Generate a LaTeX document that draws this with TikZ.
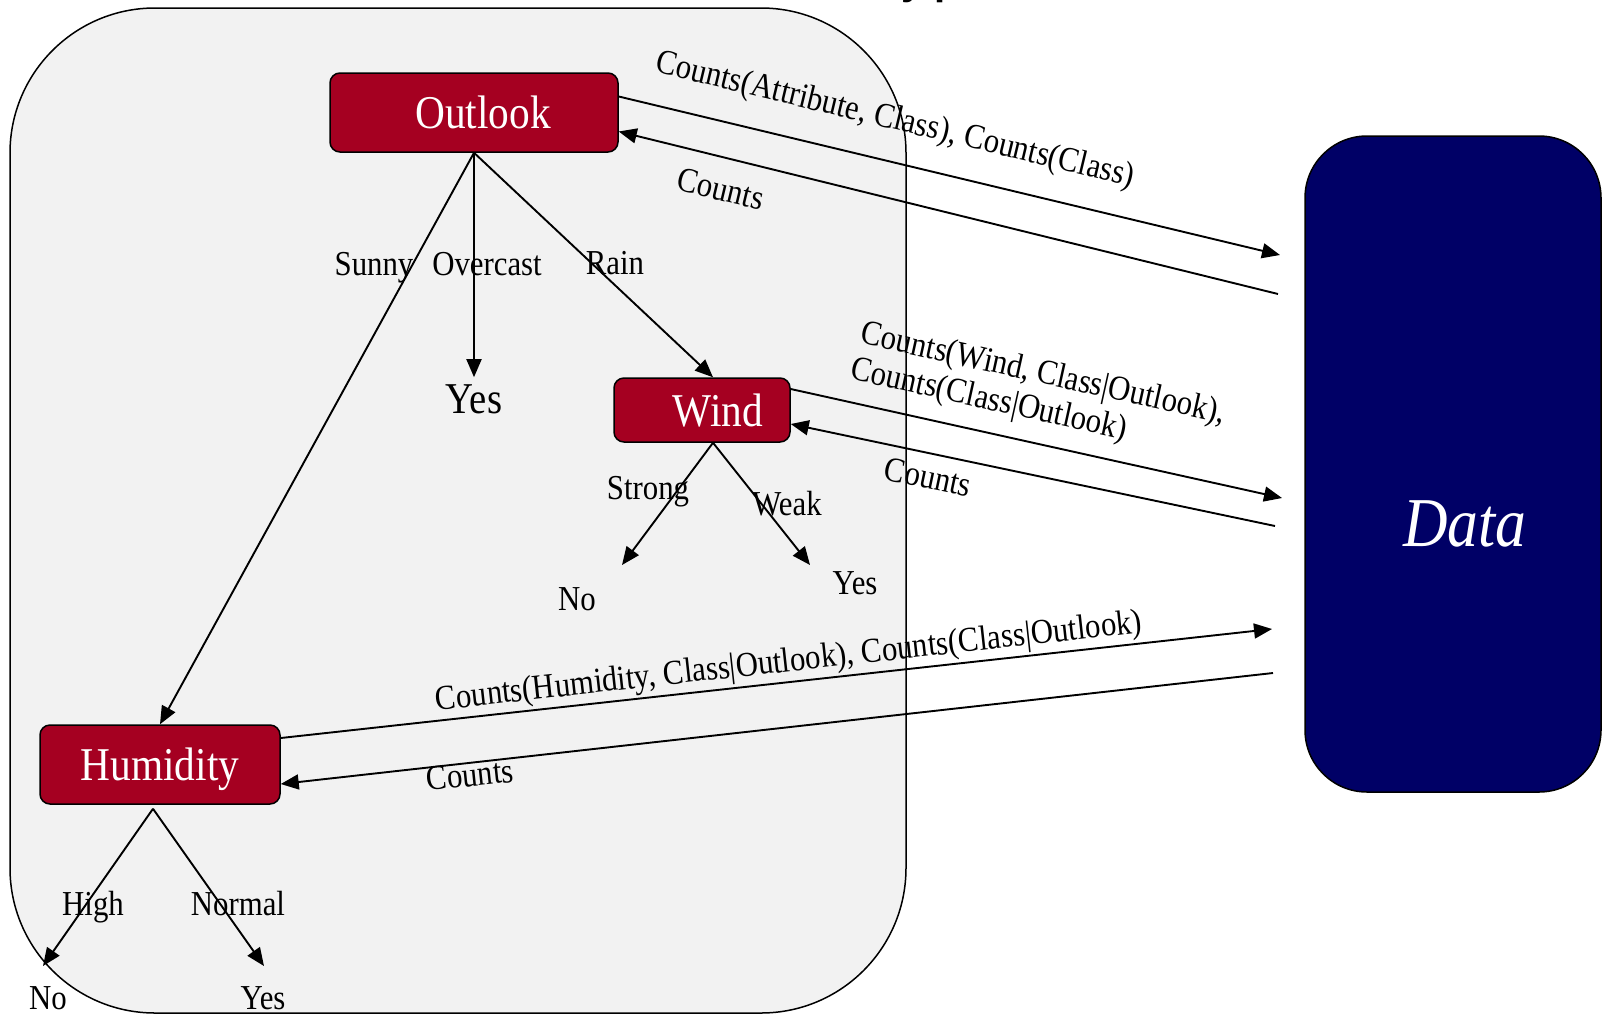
\documentclass[tikz,border=0pt]{standalone}
\usepackage{fontspec}
\setmainfont{Liberation Serif}[FakeStretch=0.88]
\newfontfamily\titlefont{Liberation Sans}
\usetikzlibrary{arrows.meta}
\definecolor{attrred}{HTML}{A50021}
\definecolor{datanavy}{HTML}{000066}
\definecolor{panelgray}{HTML}{F2F2F2}

\tikzset{
  attr/.style={draw=black, line width=1.5pt, fill=attrred, text=white,
    rounded corners=10pt, inner sep=0pt, text depth=0pt,
    font=\fontsize{47}{50}\selectfont},
  databox/.style={draw=black, line width=1.5pt, fill=datanavy,
    rounded corners=62pt, inner sep=0pt},
  branch/.style={inner sep=1pt, text depth=0pt, font=\fontsize{35}{40}\selectfont},
  msg/.style={inner sep=0pt, font=\fontsize{35}{40}\selectfont},
  link/.style={line width=1.9pt, -{Triangle[length=18pt,width=15pt]}},
}

\begin{document}
\begin{tikzpicture}[x=1pt, y=-1pt]
      \useasboundingbox (0,0) rectangle (1603,1015);

      % Draw the tree panel
      \draw[line width=1.5pt, fill=panelgray, rounded corners=145pt] (10,8) rectangle (906,1013);

      % Title, cut off at the top edge
      \node[anchor=base, inner sep=0pt, font=\titlefont\bfseries\fontsize{40}{44}\selectfont] (title) at (930,-5.5) {y p};

      % Attribute nodes
      \node[attr, minimum width=288pt, minimum height=79pt] (outlook) at (474,112.5) {\hspace*{18pt}Outlook};
      \node[attr, minimum width=176pt, minimum height=64pt] (wind) at (702,410) {\hspace*{32pt}Wind};
      \node[attr, minimum width=240pt, minimum height=79pt] (humidity) at (160,764.5) {Humidity};

      % Data store
      \node[databox, minimum width=296pt, minimum height=656pt] (data) at (1453,464) {};
      \node[text=white, font=\itshape\fontsize{70}{74}\selectfont] (datalabel) at (1465,524) {Data};

      % Leaves
      \node[inner sep=2pt, font=\fontsize{44}{48}\selectfont] (oyes) at (474,399) {Yes};
      \node[branch] (wno) at (577,599) {No};
      \node[branch] (wyes) at (855,583) {Yes};
      \node[branch] (hno) at (48,998) {No};
      \node[branch] (hyes) at (263,998) {Yes};

      % Arrow tips towards the leaves
      \coordinate (wnotip) at (622,565);
      \coordinate (wyestip) at (810,565);
      \coordinate (hnotip) at (43,966);
      \coordinate (hyestip) at (264,966);

      % Tree branches
      \draw[link] (outlook.south) -- (humidity.north);
      \draw[link] (outlook.south) -- ([yshift=5pt]oyes.north);
      \draw[link] (outlook.south) -- ([xshift=11pt]wind.north);
      \draw[link] ([xshift=11pt]wind.south) -- (wnotip);
      \draw[link] ([xshift=11pt]wind.south) -- (wyestip);
      \draw[link] ([xshift=-7pt,yshift=-4pt]humidity.south) -- (hnotip);
      \draw[link] ([xshift=-7pt,yshift=-4pt]humidity.south) -- (hyestip);

      % Branch labels
      \node[branch] (sunny) at (374,264) {Sunny};
      \node[branch] (overcast) at (487,264) {Overcast};
      \node[branch] (rain) at (615,263) {Rain};
      \node[branch] (strong) at (648,488) {Strong};
      \node[branch] (weak) at (787,503) {Weak};
      \node[branch] (high) at (93,903) {High};
      \node[branch] (normal) at (238,903) {Normal};

      % Ends at the data store
      \coordinate (dout1) at (1280,255);
      \coordinate (din1) at (1278,294);
      \coordinate (dout2) at (1282,498);
      \coordinate (din2) at (1275,526);
      \coordinate (dout3) at (1272,629);
      \coordinate (din3) at (1273,673);

      % Requests and replies
      \draw[link] ([yshift=16pt]outlook.east) -- (dout1);
      \draw[link] (din1) -- ([yshift=-19pt]outlook.east);
      \draw[link] ([yshift=21pt]wind.east) -- (dout2);
      \draw[link] (din2) -- ([yshift=-14pt]wind.east);
      \draw[link] ([yshift=26.5pt]humidity.east) -- (dout3);
      \draw[link] (din3) -- ([yshift=-19.5pt]humidity.east);

      % Message labels
      \node[msg, rotate=-13.5] (ask1) at (895,121) {Counts(Attribute, Class), Counts(Class)};
      \node[msg, rotate=-13.5] (ans1) at (721,189) {Counts};
      \node[msg, rotate=-12.5] (ask2a) at (1043,375) {Counts(Wind, Class|Outlook),};
      \node[msg, rotate=-12.5] (ask2b) at (989,401) {Counts(Class|Outlook)};
      \node[msg, rotate=-12] (ans2) at (928,477) {Counts};
      \node[msg, rotate=6.3] (ask3) at (789,663) {Counts(Humidity, Class|Outlook), Counts(Class|Outlook)};
      \node[msg, rotate=6] (ans3) at (470,775) {Counts};
\end{tikzpicture}
\end{document}
